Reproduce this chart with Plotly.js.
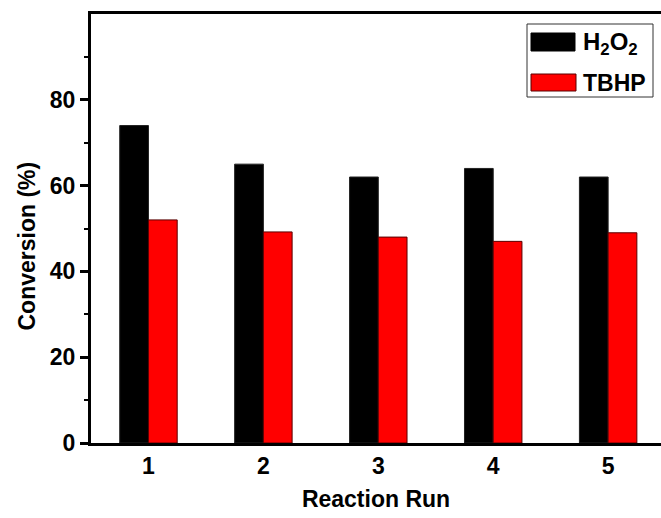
<!DOCTYPE html>
<html>
<head>
<meta charset="utf-8">
<script src="https://cdn.plot.ly/plotly-3.0.1.min.js"></script>
<style>
html,body{margin:0;padding:0;background:#fff;overflow:hidden;}
#chart{width:661px;height:518px;}
</style>
</head>
<body>
<div id="chart"></div>
<script>
var runs = [1, 2, 3, 4, 5];
var h2o2 = [74, 65, 62, 64, 62];
var tbhp = [52, 49.2, 48, 47, 49];
var yTicks = [0, 20, 40, 60, 80];
var yMinor = [10, 30, 50, 70, 90];
var seriesNames = ['H<sub>2</sub>O<sub>2</sub>', 'TBHP'];

var FONT = '"Liberation Sans", Arial, Helvetica, sans-serif';
var L = 91, W = 570, T = 14, H = 429;
function px(x){ return (x - L) / W; }
function py(y){ return (T + H - y) / H; }

var traces = [
  {type:'bar', x:runs, y:h2o2, name:'H2O2', marker:{color:'#000000', line:{color:'#222', width:1}}, showlegend:false},
  {type:'bar', x:runs, y:tbhp, name:'TBHP', marker:{color:'#ff0000', line:{color:'#5a0000', width:1}}, showlegend:false}
];

var layout = {
  width:661, height:518,
  margin:{l:L, r:0, t:T, b:518-T-H},
  paper_bgcolor:'#fff', plot_bgcolor:'#fff',
  barmode:'group', bargap:0.5, bargroupgap:0,
  font:{family:FONT, color:'#000'},
  xaxis:{
    range:[0.5, 5.46], tickvals:runs, ticktext:runs.map(String),
    showline:true, linecolor:'#000', linewidth:3, mirror:true,
    ticks:'', showgrid:false, zeroline:false,
    tickfont:{family:FONT, size:23, color:'#000', weight:'bold'},
    title:{text:'<b>Reaction Run</b>', font:{family:FONT, size:23, color:'#000'}, standoff:14}
  },
  yaxis:{
    range:[0, 100], tickvals:yTicks, ticktext:yTicks.map(String),
    showline:true, linecolor:'#000', linewidth:3, mirror:false,
    ticks:'outside', ticklen:8, tickwidth:3, tickcolor:'#000',
    minor:{tickvals:yMinor, ticks:'outside', ticklen:4, tickwidth:2, tickcolor:'#000'},
    showgrid:false, zeroline:false,
    tickfont:{family:FONT, size:23, color:'#000', weight:'bold'}
  },
  shapes:[
    {type:'rect', xref:'paper', yref:'paper', x0:px(527), x1:px(653), y0:py(97), y1:py(24), line:{color:'#333', width:1}, fillcolor:'rgba(0,0,0,0)'},
    {type:'rect', xref:'paper', yref:'paper', x0:px(531), x1:px(575), y0:py(51), y1:py(33), line:{color:'#000', width:1}, fillcolor:'#000'},
    {type:'rect', xref:'paper', yref:'paper', x0:px(531), x1:px(576), y0:py(91), y1:py(74), line:{color:'#5a0000', width:1}, fillcolor:'#ff0000'}
  ],
  annotations:[
    {xref:'paper', yref:'paper', x:px(26), y:py(246.5), text:'<b>Conversion (%)</b>', textangle:-90, showarrow:false, xanchor:'center', yanchor:'middle', font:{family:FONT, size:23, color:'#000'}},
    {xref:'paper', yref:'paper', x:px(581), y:py(44), text:'<b>'+seriesNames[0]+'</b>', showarrow:false, xanchor:'left', yanchor:'middle', font:{family:FONT, size:24, color:'#000'}},
    {xref:'paper', yref:'paper', x:px(581), y:py(83), text:'<b>'+seriesNames[1]+'</b>', showarrow:false, xanchor:'left', yanchor:'middle', font:{family:FONT, size:23, color:'#000'}}
  ]
};

Plotly.newPlot('chart', traces, layout, {displayModeBar:false, staticPlot:true});
</script>
</body>
</html>
